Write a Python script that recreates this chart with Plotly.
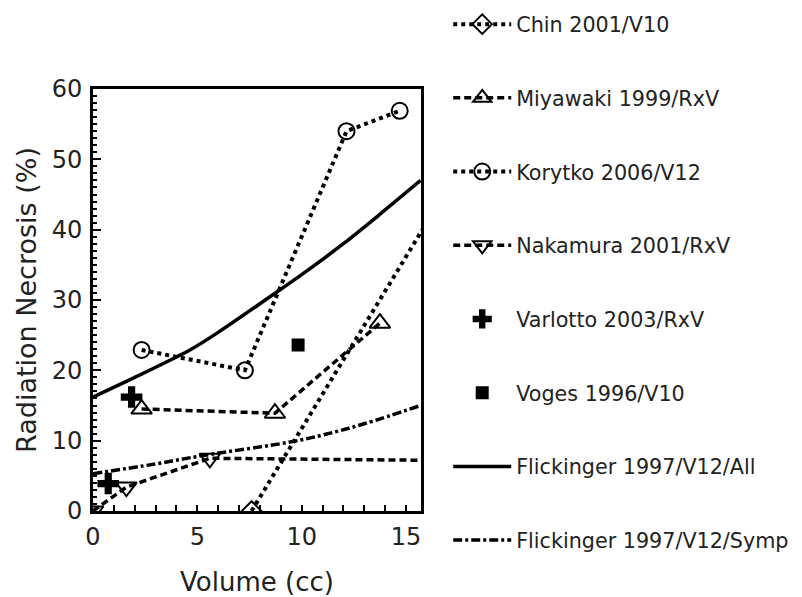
import plotly.graph_objects as go

# ---- data ----
chin_x = [7.6, 16.3]
chin_y = [0.0, 42.5]

miya_x = [2.33, 8.72, 13.75]
miya_y = [14.5, 13.9, 26.7]

kory_x = [2.33, 7.28, 12.15, 14.7]
kory_y = [22.9, 20.0, 54.0, 56.9]

naka_x = [0.0, 1.6, 5.6, 16.3]
naka_y = [0.0, 3.4, 7.5, 7.2]

varl_x = [0.73, 1.85]
varl_y = [3.9, 16.2]

voges_x = [9.83]
voges_y = [23.6]

flall_x = [0, 2, 4, 4.65, 6, 8.5, 10, 12, 14, 15.7]
flall_y = [16.2, 19.0, 21.9, 22.9, 25.4, 30.5, 33.6, 38.0, 42.8, 47.0]

flsym_x = [0, 3, 5.3, 9.44, 11, 13, 15.7]
flsym_y = [5.3, 6.7, 7.9, 9.8, 10.8, 12.4, 15.0]

names = ["Chin 2001/V10", "Miyawaki 1999/RxV", "Korytko 2006/V12", "Nakamura 2001/RxV",
         "Varlotto 2003/RxV", "Voges 1996/V10", "Flickinger 1997/V12/All",
         "Flickinger 1997/V12/Symp"]

FONT = "DejaVu Sans"
BLACK = "black"

fig = go.Figure()

def add(x, y, name, mode, symbol=None, size=None, dash="solid", width=3.5, lw=2, shape="linear"):
    kw = {}
    if "markers" in mode:
        filled = not symbol.endswith("open")
        kw["marker"] = dict(symbol=symbol, size=size, color=BLACK,
                            line=dict(color=BLACK, width=lw if not filled else 0))
    if "lines" in mode:
        kw["line"] = dict(color=BLACK, width=width, dash=dash, shape=shape)
    fig.add_trace(go.Scatter(x=x, y=y, name=name, mode=mode, legendgroup=name,
                             cliponaxis=True, **kw))

add(chin_x, chin_y, names[0], "lines+markers", "diamond-open", 15, "4px,4px", 4)
add(miya_x, miya_y, names[1], "lines+markers", "triangle-up-open", 18, "7px,4px", 3.5)
add(kory_x, kory_y, names[2], "lines+markers", "circle-open", 16, "4px,4px", 4)
add(naka_x, naka_y, names[3], "lines+markers", "triangle-down-open", 18, "7px,4px", 3.5)
add(varl_x, varl_y, names[4], "markers", "cross", 18)
add(voges_x, voges_y, names[5], "markers", "square", 13)
add(flall_x, flall_y, names[6], "lines", width=3.5, shape="spline")
add(flsym_x, flsym_y, names[7], "lines", dash="9px,3px,3px,3px", width=3.5, shape="spline")

axis_common = dict(showline=True, linecolor=BLACK, linewidth=3, mirror=True,
                   showgrid=False, zeroline=False, ticks="inside", tickcolor=BLACK,
                   tickwidth=2, tickfont=dict(family=FONT, size=24, color="#222"))

fig.update_xaxes(range=[0, 15.72], tick0=0, dtick=5, ticklen=6, ticklabelstandoff=2,
                 minor=dict(dtick=1, ticks="inside", ticklen=6, tickcolor=BLACK, tickwidth=2),
                 title=dict(text="Volume (cc)", font=dict(family=FONT, size=26, color="#222"),
                            standoff=32),
                 **axis_common)
fig.update_yaxes(range=[0, 60], tick0=0, dtick=10, ticklen=8, ticklabelstandoff=3,
                 minor=dict(dtick=1, ticks="inside", ticklen=4, tickcolor=BLACK, tickwidth=2),
                 title=dict(text="Radiation Necrosis (%)",
                            font=dict(family=FONT, size=27, color="#222"), standoff=8),
                 **axis_common)

# page body adds an 8px offset; the figure is sized/placed to compensate
fig.update_layout(
    width=794, height=589,
    margin=dict(l=85, r=381, t=81, b=86, autoexpand=False),
    plot_bgcolor="white", paper_bgcolor="white",
    font=dict(family=FONT, color="#222"),
    showlegend=True,
    legend=dict(x=1.083, y=1.201, xanchor="left", yanchor="top",
                font=dict(family=FONT, size=20.7, color="#222"),
                tracegroupgap=43.8, traceorder="grouped", maxheight=589,
                itemwidth=58, bgcolor="rgba(0,0,0,0)"),
)

fig.write_html("out.html")
